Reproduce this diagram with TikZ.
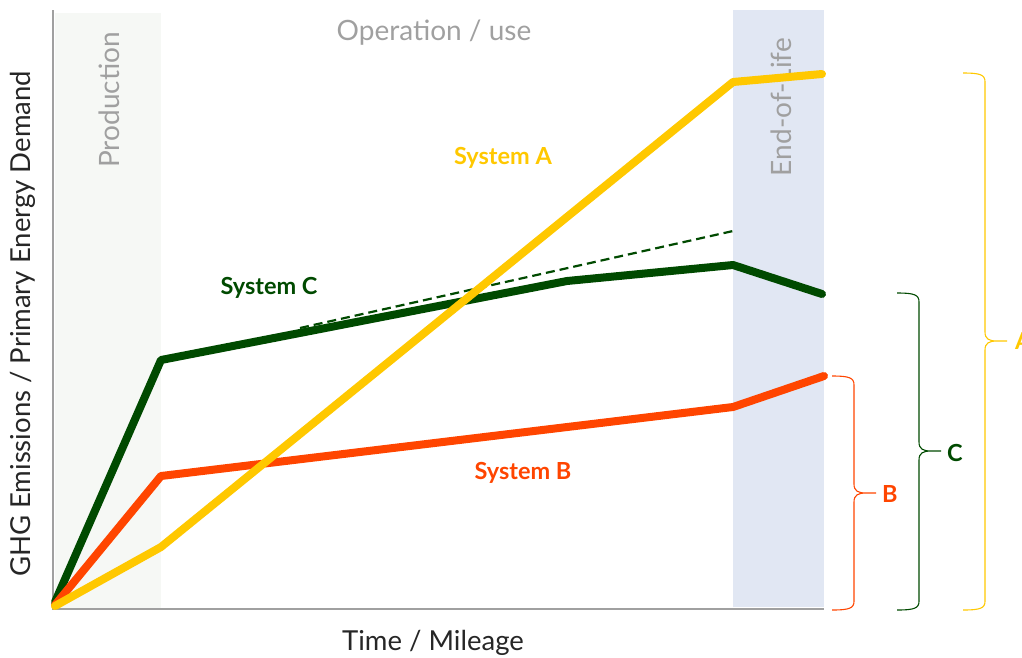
\documentclass[tikz,border=0pt]{standalone}
\usepackage{fontspec}
\setmainfont{Lato}
\definecolor{sysA}{HTML}{FFC800}
\definecolor{sysB}{HTML}{FF4500}
\definecolor{sysC}{HTML}{004A00}
\definecolor{phasegray}{HTML}{A0A0A0}
\definecolor{prodband}{HTML}{F6F8F5}
\definecolor{eolband}{HTML}{E1E7F3}
\tikzset{every node/.style={inner sep=0pt},
  phase/.style={text=phasegray,font=\fontsize{28}{32}\selectfont},
  axislabel/.style={text=black!85,font=\fontsize{27.5}{32}\selectfont},
  sysline/.style={line width=8pt,line cap=round,line join=round},
  syslabel/.style={font=\bfseries\fontsize{23.5}{27}\selectfont},
  bracket/.style={line width=1.1pt}}

\begin{document}
\begin{tikzpicture}[x=1pt,y=-1pt]
\useasboundingbox (0,0) rectangle (1022,657);
\fill[prodband] (55,13) rectangle (161,608);
\fill[eolband] (733,10) rectangle (824,607);
\path[draw,color=phasegray,line width=2pt] (53,10) coordinate(top)--(53,609) coordinate(o)--(824,609) coordinate(end);

\node[phase,rotate=90] (prod) at (109,100) {Production};
\node[phase] (op) at (434,33) {Operation / use};
\node[phase,rotate=90] (eol) at (781,107) {End-of-Life};
\node[axislabel,rotate=90] (ylab) at (23,324) {GHG Emissions / Primary Energy Demand};
\node[axislabel] (xlab) at (433,643) {Time / Mileage};

\path
(55,602) coordinate(c0)
(161,360) coordinate(c1)
(567,281) coordinate(c2)
(733,265) coordinate(c3)
(822,294) coordinate(c4)
(300,328) coordinate(d0)
(733,231) coordinate(d1)
(55,605) coordinate(b0)
(161,476) coordinate(b1)
(733,407) coordinate(b2)
(824,376) coordinate(b3)
(55,606) coordinate(a0)
(161,547) coordinate(a1)
(733,82) coordinate(a2)
(822,74) coordinate(a3);
\path[draw,sysC,line width=2.2pt,dash pattern=on 9pt off 5pt] (d0)--(d1);
\path[draw,sysC,sysline] (c0)--(c1)--(c2)--(c3)--(c4);
\path[draw,sysB,sysline] (b0)--(b1)--(b2)--(b3);
\path[draw,sysA,sysline] (a0)--(a1)--(a2)--(a3);

\node[syslabel,text=sysA] (la) at (503,158) {System A};
\node[syslabel,text=sysC] (lc) at (269,288) {System C};
\node[syslabel,text=sysB] (lb) at (523,473) {System B};

% braces
\path[draw,sysB,bracket] (832,376) .. controls (850,376) and (854,378) .. (854,385)
  -- (854,484) .. controls (854,491) and (858,493) .. (866,493) -- (876,493) coordinate(tb)
  (866,493) .. controls (858,493) and (854,495) .. (854,502)
  -- (854,601) .. controls (854,608) and (850,610) .. (832,610);
\path[draw,sysC,bracket] (897,293) .. controls (915,293) and (919,295) .. (919,302)
  -- (919,442) .. controls (919,449) and (923,451) .. (931,451) -- (941,451) coordinate(tc)
  (931,451) .. controls (923,451) and (919,453) .. (919,460)
  -- (919,601) .. controls (919,608) and (915,610) .. (897,610);
\path[draw,sysA,bracket] (963,73) .. controls (981,73) and (985,75) .. (985,82)
  -- (985,332) .. controls (985,339) and (989,341) .. (997,341) -- (1007,341) coordinate(ta)
  (997,341) .. controls (989,341) and (985,343) .. (985,350)
  -- (985,601) .. controls (985,608) and (981,610) .. (963,610);
\node[syslabel,text=sysB,anchor=west] (B) at ([xshift=6pt,yshift=-1pt]tb) {B};
\node[syslabel,text=sysC,anchor=west] (C) at ([xshift=6pt,yshift=-2pt]tc) {C};
\node[syslabel,text=sysA,anchor=west] (A) at ([xshift=8pt]ta) {A};
\end{tikzpicture}
\end{document}
